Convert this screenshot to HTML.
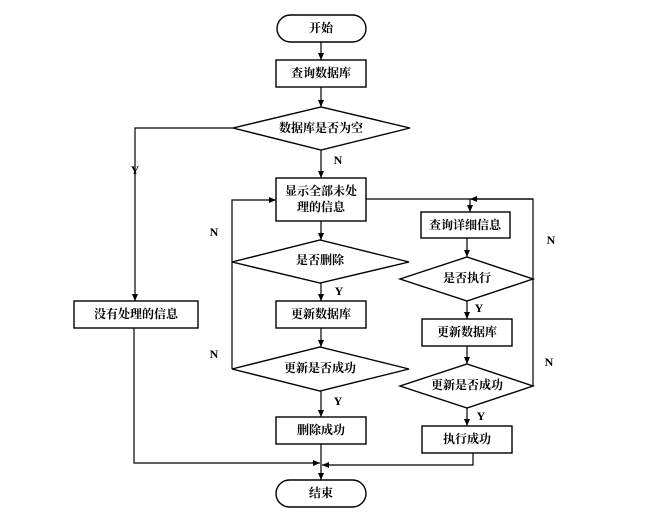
<!DOCTYPE html>
<html><head><meta charset="utf-8"><style>
html,body{margin:0;padding:0;background:#fff}
svg{display:block}
text{font-family:"Liberation Serif","Noto Serif CJK SC",serif;font-weight:bold;font-size:12px;fill:#000;text-anchor:middle;dominant-baseline:central}
</style></head><body>
<svg width="654" height="522" viewBox="0 0 654 522" xmlns="http://www.w3.org/2000/svg">
<defs><marker id="a" markerWidth="8" markerHeight="8" refX="7" refY="4" orient="auto" markerUnits="userSpaceOnUse"><path d="M0,1 L7,4 L0,7 Z" fill="#000"/></marker></defs>
<g fill="#fff" stroke="#000" stroke-width="1.4">
<rect x="277" y="15" width="89" height="27" rx="13.5"/>
<rect x="276" y="60" width="90" height="27"/>
<polygon points="233,128 321,107 410,128 321,150"/>
<rect x="276" y="178" width="90" height="43"/>
<polygon points="232,262 320,240 409,262 320,283"/>
<rect x="276" y="301" width="90" height="27"/>
<polygon points="232,369 320,347 409,369 320,391"/>
<rect x="276" y="417" width="90" height="27"/>
<rect x="276" y="480" width="90" height="27" rx="13.5"/>
<rect x="74" y="301" width="124" height="27"/>
<rect x="421" y="212" width="89" height="26"/>
<polygon points="400,279 467,257 533,279 467,301"/>
<rect x="422" y="319" width="90" height="27"/>
<polygon points="400,386 467,364 533,386 467,408"/>
<rect x="422" y="426" width="90" height="27"/>
</g>
<g fill="none" stroke="#000" stroke-width="1.2">
<line x1="321" y1="42" x2="321" y2="60" marker-end="url(#a)"/>
<line x1="321" y1="87" x2="321" y2="107" marker-end="url(#a)"/>
<line x1="321" y1="150" x2="321" y2="178" marker-end="url(#a)"/>
<polyline points="233,128 135,128 135,301" marker-end="url(#a)"/>
<line x1="321" y1="221" x2="321" y2="240" marker-end="url(#a)"/>
<line x1="321" y1="283" x2="321" y2="301" marker-end="url(#a)"/>
<line x1="321" y1="328" x2="321" y2="347" marker-end="url(#a)"/>
<line x1="321" y1="391" x2="321" y2="417" marker-end="url(#a)"/>
<line x1="321" y1="444" x2="321" y2="480" marker-end="url(#a)"/>
<polyline points="232,369 232,200 276,200" marker-end="url(#a)"/>
<polyline points="366,199 533,199"/>
<polyline points="533,386 533,199 470,199" marker-end="url(#a)"/>
<line x1="470" y1="199" x2="470" y2="212" marker-end="url(#a)"/>
<line x1="467" y1="238" x2="467" y2="257" marker-end="url(#a)"/>
<line x1="467" y1="301" x2="467" y2="319" marker-end="url(#a)"/>
<line x1="467" y1="346" x2="467" y2="364" marker-end="url(#a)"/>
<line x1="467" y1="408" x2="467" y2="426" marker-end="url(#a)"/>
<polyline points="134,328 134,463 320,463" marker-end="url(#a)"/>
<polyline points="473,453 473,465 322,465" marker-end="url(#a)"/>
</g>
<text x="321" y="28">开始</text>
<text x="321" y="73">查询数据库</text>
<text x="321" y="128">数据库是否为空</text>
<text x="321" y="191">显示全部未处</text>
<text x="321" y="207">理的信息</text>
<text x="320" y="260">是否删除</text>
<text x="321" y="314">更新数据库</text>
<text x="320" y="368">更新是否成功</text>
<text x="321" y="430">删除成功</text>
<text x="321" y="493">结束</text>
<text x="136" y="314">没有处理的信息</text>
<text x="465" y="225">查询详细信息</text>
<text x="467" y="278">是否执行</text>
<text x="467" y="332">更新数据库</text>
<text x="467" y="385">更新是否成功</text>
<text x="467" y="439">执行成功</text>
<text x="135" y="170">Y</text>
<text x="338" y="160">N</text>
<text x="339" y="291">Y</text>
<text x="214" y="232">N</text>
<text x="214" y="354">N</text>
<text x="338" y="401">Y</text>
<text x="479" y="308">Y</text>
<text x="481" y="416">Y</text>
<text x="551" y="240">N</text>
<text x="549" y="362">N</text>
</svg>
</body></html>
